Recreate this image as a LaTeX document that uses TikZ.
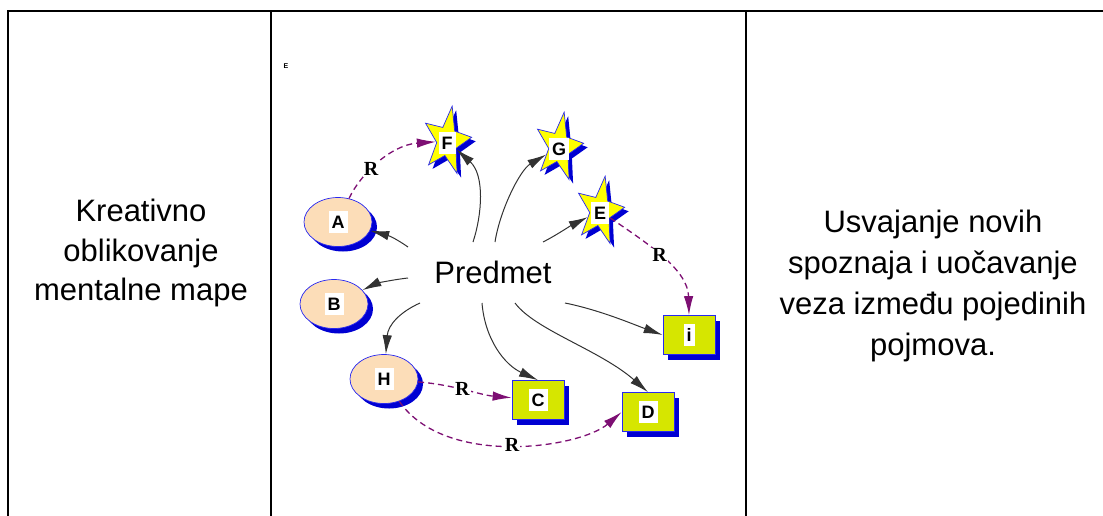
\documentclass[tikz,border=0pt]{standalone}
\usepackage{fontspec}
\setmainfont{Liberation Sans}
\newfontfamily\relfont{Liberation Serif}
\usetikzlibrary{shapes.geometric,arrows.meta,shadows}

\definecolor{ovalfill}{RGB}{252,221,184}
\definecolor{starfill}{RGB}{255,255,0}
\definecolor{blockfill}{RGB}{214,230,0}
\definecolor{rim}{RGB}{40,40,240}
\definecolor{shade}{RGB}{0,0,210}
\definecolor{linkgray}{RGB}{50,50,50}
\definecolor{relpurple}{RGB}{125,15,115}

\begin{document}
\begin{tikzpicture}[x=1pt, y=-1pt,
    oval/.style = {ellipse, draw=rim, fill=ovalfill, line width=0.7pt, minimum width=68pt, minimum height=49pt,
        drop shadow={shadow xshift=5pt, shadow yshift=-5pt, fill=shade, opacity=1}},
    spike/.style = {star, star points=5, star point ratio=2.4, minimum size=62pt, inner sep=0pt,
        shape border rotate=-12, draw=rim, fill=starfill, line width=0.7pt, xscale=0.8, yscale=1.15, transform shape,
        drop shadow={shadow xshift=4pt, shadow yshift=-4pt, fill=shade, opacity=1}},
    block/.style = {rectangle, draw=rim, fill=blockfill, line width=0.7pt, minimum width=52pt, minimum height=39pt,
        drop shadow={shadow xshift=5pt, shadow yshift=-5pt, fill=shade, opacity=1}},
    tag/.style = {fill=white, inner xsep=3pt, inner ysep=4.5pt, font=\fontsize{18}{18}\selectfont\bfseries},
    link/.style = {draw=linkgray, line width=1pt, -{Latex[length=19pt, width=9.5pt]}},
    rel/.style = {draw=relpurple, line width=1.3pt, dash pattern=on 6pt off 4pt, -{Latex[length=19pt, width=9.5pt]}},
    rlabel/.style = {fill=white, inner sep=1pt, font=\relfont\fontsize{20}{20}\selectfont\bfseries}]
    \useasboundingbox (0,0) rectangle (1103,515);

    % table frame
    \draw[line width=2pt] (8,520) -- (8,11) -- (1110,11);
    \draw[line width=2pt] (271,11) -- (271,520);
    \draw[line width=2pt] (746,11) -- (746,520);

    \node[align=center, font=\fontsize{31}{39.5}\selectfont] (method) at (141,253) {Kreativno\\oblikovanje\\mentalne mape};
    \node[align=center, font=\fontsize{31}{41}\selectfont] (outcome) at (933,286) {Usvajanje novih\\spoznaja i uočavanje\\veza između pojedinih\\pojmova.};

    % mind map
    \node[font=\fontsize{7}{7}\selectfont\bfseries, inner sep=0pt] (mark) at (286,66) {E};
    \node[font=\fontsize{31}{31}\selectfont] (P) at (493,272) {Predmet};

    \node[oval] (A) at (338,222) {};
    \node[oval] (B) at (334,304) {};
    \node[oval] (H) at (384,379) {};
    \node[spike] (F) at (447,141) {};
    \node[spike] (G) at (559,147) {};
    \node[spike] (E) at (600,211) {};
    \node[block] (C) at (538,400) {};
    \node[block] (D) at (648,412) {};
    \node[block] (I) at (689,335) {};

    \node[tag] (tA) at (A) {A};
    \node[tag] (tB) at (B) {B};
    \node[tag] (tH) at (H) {H};
    \node[tag] (tF) at ([yshift=-2pt]F.center) {F};
    \node[tag] (tG) at ([yshift=-2pt]G.center) {G};
    \node[tag] (tE) at ([yshift=-2pt]E.center) {E};
    \node[tag] (tC) at (C) {C};
    \node[tag] (tD) at (D) {D};
    \node[tag] (tI) at (I) {i};

    \draw[link] ([shift={(-20,-30)}]P.center) .. controls (482,215) and (485,175) .. (F);
    \draw[link] ([shift={(2,-30)}]P.center) .. controls (500,210) and (520,170) .. (G);
    \draw[link] ([shift={(50,-30)}]P.center) .. controls (555,236) and (570,226) .. (E);
    \draw[link] ([shift={(-85,-25)}]P.center) .. controls (398,240) and (390,236) .. (A);
    \draw[link] ([shift={(-85,6)}]P.center) .. controls (390,280) and (375,284) .. (B);
    \draw[link] ([shift={(-73,31)}]P.center) .. controls (400,312) and (388,325) .. (H);
    \draw[link] ([shift={(-11,31)}]P.center) .. controls (485,340) and (505,365) .. (C.north);
    \draw[link] ([shift={(22,31)}]P.center) .. controls (535,330) and (600,350) .. (D.north);
    \draw[link] ([shift={(72,31)}]P.center) .. controls (600,310) and (635,325) .. (I.west);

    \draw[rel] (A) .. controls (360,175) and (390,145) .. node[rlabel, pos=0.4] (r1) {R} (F);
    \draw[rel] (E) .. controls (650,245) and (688,270) .. node[rlabel, pos=0.45] (r2) {R} (I.north);
    \draw[rel] (H) .. controls (455,385) and (480,395) .. node[rlabel, pos=0.45] (r3) {R} (C);
    \draw[rel] (H) .. controls (445,468) and (580,448) .. node[rlabel] (r4) {R} (D.west);
\end{tikzpicture}
\end{document}
